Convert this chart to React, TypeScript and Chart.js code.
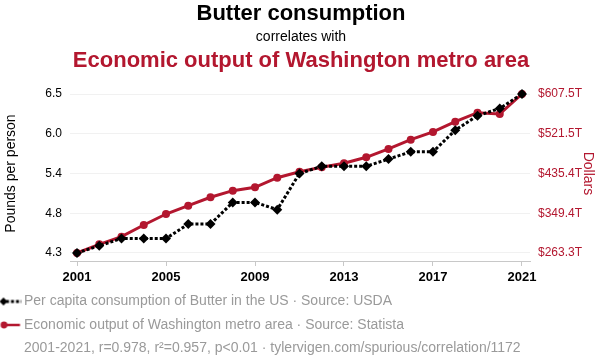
import { useEffect, useRef } from "react";
import { Chart, registerables } from "chart.js";

Chart.register(...registerables);

const years = [2001, 2002, 2003, 2004, 2005, 2006, 2007, 2008, 2009, 2010, 2011, 2012, 2013, 2014, 2015, 2016, 2017, 2018, 2019, 2020, 2021];
const butterConsumption = [4.3, 4.4, 4.5, 4.5, 4.5, 4.7, 4.7, 5.0, 5.0, 4.9, 5.4, 5.5, 5.5, 5.5, 5.6, 5.7, 5.7, 6.0, 6.2, 6.3, 6.5];
const washingtonOutput = [263.3, 282.1, 298.6, 323.9, 347.7, 365.7, 383.9, 398.2, 405.5, 426.3, 439.3, 448.8, 457.5, 470.5, 488.5, 508.6, 525.3, 547.6, 567.0, 564.3, 607.5];

const xTickValues = [2001, 2005, 2009, 2013, 2017, 2021];
const leftTickValues = [4.3, 4.85, 5.4, 5.95, 6.5];
const leftTickLabels = ["4.3", "4.8", "5.4", "6.0", "6.5"];
const rightTickValues = [263.3, 349.35, 435.4, 521.45, 607.5];
const rightTickLabels = ["$263.3T", "$349.4T", "$435.4T", "$521.5T", "$607.5T"];

const titleText = "Butter consumption";
const subtitleText = "correlates with";
const secondTitleText = "Economic output of Washington metro area";
const butterLabel = "Per capita consumption of Butter in the US · Source: USDA";
const outputLabel = "Economic output of Washington metro area · Source: Statista";
const footnoteText = "2001-2021, r=0.978, r²=0.957, p<0.01 · tylervigen.com/spurious/correlation/1172";
const leftAxisTitle = "Pounds per person";
const rightAxisTitle = "Dollars";

const RED = "#B3172F";
const FONT = "'Liberation Sans', Arial, Helvetica, sans-serif";

function makeMarker(kind: "diamond" | "circle" | "none") {
  const c = document.createElement("canvas");
  c.width = 40;
  c.height = 12;
  const ctx = c.getContext("2d")!;
  const off = 11.5;
  const cy = 6;
  if (kind === "diamond") {
    ctx.strokeStyle = "#000";
    ctx.lineWidth = 3;
    ctx.setLineDash([3, 2]);
    ctx.beginPath();
    ctx.moveTo(off + 6, cy);
    ctx.lineTo(off + 21.5, cy);
    ctx.stroke();
    ctx.setLineDash([]);
    ctx.fillStyle = "#000";
    ctx.beginPath();
    const r = 4;
    const cx = off + 3.5;
    ctx.moveTo(cx - r, cy);
    ctx.lineTo(cx, cy - r);
    ctx.lineTo(cx + r, cy);
    ctx.lineTo(cx, cy + r);
    ctx.closePath();
    ctx.fill();
  } else if (kind === "circle") {
    ctx.strokeStyle = RED;
    ctx.lineWidth = 2.5;
    ctx.beginPath();
    ctx.moveTo(off + 5, cy);
    ctx.lineTo(off + 20, cy);
    ctx.stroke();
    ctx.fillStyle = RED;
    ctx.beginPath();
    ctx.arc(off + 4, cy, 3.4, 0, Math.PI * 2);
    ctx.fill();
  }
  return c;
}

const titlePlugin = {
  id: "stackedTitles",
  afterDraw(chart: any) {
    const ctx = chart.ctx as CanvasRenderingContext2D;
    ctx.save();
    ctx.textAlign = "center";
    ctx.textBaseline = "alphabetic";
    ctx.fillStyle = "#000";
    ctx.font = `bold 22px ${FONT}`;
    ctx.fillText(titleText, 301, 19.5);
    ctx.font = `14px ${FONT}`;
    ctx.fillText(subtitleText, 301, 40.8);
    ctx.fillStyle = RED;
    ctx.font = `bold 22px ${FONT}`;
    ctx.fillText(secondTitleText, 301, 67);
    ctx.restore();
  },
};

export default function App() {
  const ref = useRef<HTMLCanvasElement | null>(null);

  useEffect(() => {
    if (!ref.current) return;
    Chart.defaults.font.family = FONT;
    const markers = [makeMarker("diamond"), makeMarker("circle"), makeMarker("none")];
    const chart = new Chart(ref.current, {
      type: "line",
      data: {
        datasets: [
          {
            label: butterLabel,
            data: years.map((x, i) => ({ x, y: butterConsumption[i] })),
            yAxisID: "y",
            borderColor: "#000",
            backgroundColor: "#000",
            borderWidth: 3,
            borderDash: [3, 2],
            pointStyle: "rectRot",
            pointRadius: 5,
            pointBorderWidth: 0,
            pointBackgroundColor: "#000",
            tension: 0,
            clip: false,
          },
          {
            label: outputLabel,
            data: years.map((x, i) => ({ x, y: washingtonOutput[i] })),
            yAxisID: "y1",
            borderColor: RED,
            backgroundColor: RED,
            borderWidth: 3,
            pointStyle: "circle",
            pointRadius: 4,
            pointBorderWidth: 0,
            pointBackgroundColor: RED,
            tension: 0,
            clip: false,
          },
        ],
      },
      options: {
        animation: false,
        responsive: false,
        layout: { padding: { top: 86, left: -9.5, right: 0, bottom: -5.5 } },
        plugins: {
          title: { display: false },
          tooltip: { enabled: false },
          legend: {
            display: true,
            position: "bottom",
            align: "start",
            onClick: () => {},
            labels: {
              usePointStyle: true,
              pointStyleWidth: 17,
              padding: 9.5,
              color: "#9a9a9a",
              font: { size: 14, family: FONT },
              generateLabels: () =>
                [butterLabel, outputLabel, footnoteText].map((text, i) => ({
                  text,
                  fillStyle: "transparent",
                  strokeStyle: "transparent",
                  lineWidth: 0,
                  pointStyle: markers[i],
                  hidden: false,
                  fontColor: "#9a9a9a",
                  datasetIndex: i < 2 ? i : undefined,
                })) as any,
            },
          },
        },
        scales: {
          x: {
            type: "linear",
            min: 2000.685,
            max: 2021.36,
            afterBuildTicks: (s: any) => {
              s.ticks = xTickValues.map((v) => ({ value: v }));
            },
            afterFit: (s: any) => {
              s.height = 24;
            },
            ticks: {
              autoSkip: false,
              maxRotation: 0,
              padding: 3.5,
              color: "#000",
              font: { size: 13, weight: "bold", family: FONT },
              callback: (v: any) => String(v),
            },
            grid: { drawOnChartArea: false, drawTicks: true, tickLength: 5, color: "#c8c8c8" },
            border: { display: true, color: "#c8c8c8" },
          },
          y: {
            type: "linear",
            position: "left",
            min: 4.189,
            max: 6.611,
            afterBuildTicks: (s: any) => {
              s.ticks = leftTickValues.map((v) => ({ value: v }));
            },
            afterFit: (s: any) => {
              s.width = 79.5;
            },
            ticks: {
              padding: 8,
              color: "#000",
              font: { size: 12, family: FONT },
              callback: (_v: any, i: number) => leftTickLabels[i],
            },
            grid: { drawTicks: false, color: "rgba(0,0,0,0.055)" },
            border: { display: false },
            title: {
              display: true,
              text: leftAxisTitle,
              color: "#000",
              font: { size: 14, family: FONT },
              padding: { top: 12.4, bottom: 0 },
            },
          },
          y1: {
            type: "linear",
            position: "right",
            min: 245.98,
            max: 624.82,
            afterBuildTicks: (s: any) => {
              s.ticks = rightTickValues.map((v) => ({ value: v }));
            },
            afterFit: (s: any) => {
              s.width = 70;
            },
            ticks: {
              padding: 8,
              color: RED,
              font: { size: 12, family: FONT },
              callback: (_v: any, i: number) => rightTickLabels[i],
            },
            grid: { drawOnChartArea: false, drawTicks: false },
            border: { display: false },
            title: {
              display: true,
              text: rightAxisTitle,
              color: RED,
              font: { size: 14, family: FONT },
              padding: { top: 4, bottom: 0 },
            },
          },
        },
      },
      plugins: [titlePlugin],
    } as any);
    return () => chart.destroy();
  }, []);

  return (
    <div style={{ position: "fixed", left: 0, top: 0, width: 600, height: 360, background: "#fff" }}>
      <canvas ref={ref} width={600} height={360} style={{ display: "block", width: 600, height: 360 }} />
    </div>
  );
}
